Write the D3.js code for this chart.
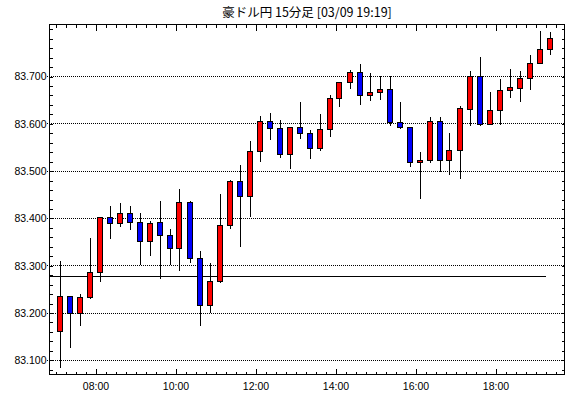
<!DOCTYPE html>
<html>
<head>
<meta charset="utf-8">
<script src="https://cdn.jsdelivr.net/npm/d3@7"></script>
<style>
  body { margin: 0; background: #fff; }
  svg { display: block; }
  .tick text { font-family: "Liberation Sans", Arial, sans-serif; font-size: 10.5px; fill: #000; }
</style>
</head>
<body>
<div id="chart"></div>
<script>
// 15-minute candles, 2011-03-09 (AUD/JPY)
const times = [
  "07:00","07:15","07:30","07:45","08:00","08:15","08:30","08:45","09:00","09:15",
  "09:30","09:45","10:00","10:15","10:30","10:45","11:00","11:15","11:30","11:45",
  "12:00","12:15","12:30","12:45","13:00","13:15","13:30","13:45","14:00","14:15",
  "14:30","14:45","15:00","15:15","15:30","15:45","16:00","16:15","16:30","16:45",
  "17:00","17:15","17:30","17:45","18:00","18:15","18:30","18:45","19:00","19:15"
];
const open = [
  83.160,83.234,83.198,83.232,83.285,83.401,83.389,83.410,83.391,83.351,
  83.391,83.364,83.336,83.433,83.315,83.216,83.266,83.384,83.478,83.446,
  83.541,83.605,83.590,83.535,83.592,83.579,83.547,83.588,83.653,83.687,
  83.708,83.660,83.666,83.672,83.603,83.592,83.518,83.522,83.605,83.522,
  83.543,83.631,83.701,83.598,83.629,83.670,83.675,83.696,83.728,83.757
];
const high = [
  83.311,83.236,83.241,83.358,83.402,83.426,83.433,83.426,83.412,83.394,
  83.437,83.377,83.462,83.436,83.332,83.306,83.451,83.481,83.512,83.564,
  83.617,83.622,83.609,83.594,83.646,83.586,83.620,83.660,83.689,83.714,
  83.726,83.707,83.702,83.702,83.646,83.594,83.540,83.615,83.615,83.580,
  83.637,83.711,83.742,83.668,83.694,83.715,83.711,83.746,83.797,83.795
];
const low = [
  83.083,83.126,83.172,83.230,83.265,83.356,83.382,83.375,83.302,83.320,
  83.271,83.302,83.289,83.306,83.172,83.201,83.264,83.377,83.339,83.402,
  83.519,83.566,83.528,83.504,83.567,83.526,83.543,83.572,83.636,83.673,
  83.640,83.648,83.651,83.596,83.590,83.509,83.442,83.518,83.499,83.492,
  83.483,83.596,83.596,83.598,83.598,83.654,83.646,83.672,83.727,83.746
];
const close = [
  83.234,83.198,83.232,83.285,83.401,83.389,83.410,83.391,83.351,83.389,
  83.363,83.336,83.433,83.315,83.216,83.266,83.384,83.478,83.446,83.541,
  83.605,83.590,83.535,83.592,83.579,83.547,83.588,83.653,83.687,83.708,
  83.660,83.666,83.672,83.603,83.592,83.518,83.522,83.605,83.522,83.543,
  83.632,83.701,83.598,83.629,83.671,83.677,83.696,83.728,83.757,83.780
];
const yLabels = [83.1, 83.2, 83.3, 83.4, 83.5, 83.6, 83.7];
const refLevel = 83.277;   // horizontal line
const refEnd = "19:15";
const title = "豪ドル円 15分足 [03/09 19:19]";

const W = 570, H = 398;
const pLeft = 49.5, pRight = 564.5, pTop = 24.5, pBottom = 374.5;

const parse = d3.timeParse("%Y-%m-%d %H:%M");
const day = "2011-03-09 ";
const data = times.map((t, i) => ({
  t: parse(day + t), o: open[i], h: high[i], l: low[i], c: close[i]
}));

const svg = d3.select("#chart").append("svg")
  .attr("width", W).attr("height", H);

const x = d3.scaleTime()
  .domain([parse(day + "06:51"), d3.timeSecond.offset(parse(day + "19:43"), 30)])
  .range([pLeft, pRight]);
const y = d3.scaleLinear()
  .domain([83.07, 83.81])
  .range([pBottom, pTop]);

const snap = v => Math.round(v - 0.5) + 0.5;

// title
svg.append("text")
  .attr("x", (pLeft + pRight) / 2).attr("y", 17)
  .attr("text-anchor", "middle")
  .style("font-family", "'Noto Sans CJK JP', sans-serif")
  .style("font-size", "12.5px")
  .text(title);

// dotted grid
svg.append("g").selectAll("line")
  .data(yLabels).join("line")
  .attr("x1", 47).attr("x2", pRight)
  .attr("y1", d => snap(y(d))).attr("y2", d => snap(y(d)))
  .attr("stroke", "#000").attr("stroke-dasharray", "1,1")
  .attr("shape-rendering", "crispEdges");

// axes ticks
const t0 = parse(day + "07:00"), t1 = parse(day + "19:30");
const qTicks = d3.timeMinute.every(15).range(t0, d3.timeMinute.offset(t1, 1));
const hTicks = qTicks.filter(d => d.getMinutes() == 0 && d.getHours() % 2 == 0);

function styleAxis(g) {
  g.select(".domain").remove();
  g.selectAll("line").attr("shape-rendering", "crispEdges");
}

svg.append("g").attr("transform", `translate(0,${pBottom})`)
  .call(d3.axisBottom(x).tickValues(qTicks).tickSize(-3).tickFormat(""))
  .call(styleAxis);
svg.append("g").attr("transform", `translate(0,${pBottom})`)
  .call(d3.axisBottom(x).tickValues(hTicks).tickSize(-6).tickPadding(8)
    .tickFormat(d3.timeFormat("%H:%M")))
  .call(styleAxis);
svg.append("g").attr("transform", `translate(0,${pTop})`)
  .call(d3.axisTop(x).tickValues(qTicks).tickSize(-3).tickFormat(""))
  .call(styleAxis);
svg.append("g").attr("transform", `translate(0,${pTop})`)
  .call(d3.axisTop(x).tickValues(hTicks).tickSize(-6).tickFormat(""))
  .call(styleAxis);

const yMinor = d3.range(83.08, 83.81, 0.02);
svg.append("g").attr("transform", `translate(${pLeft},0)`)
  .call(d3.axisLeft(y).tickValues(yMinor).tickSize(-3).tickFormat(""))
  .call(styleAxis);
svg.append("g").attr("transform", `translate(${pRight},0)`)
  .call(d3.axisRight(y).tickValues(yMinor).tickSize(-3).tickFormat(""))
  .call(styleAxis);
svg.append("g").attr("transform", `translate(${pLeft - 2},0)`)
  .call(d3.axisLeft(y).tickValues(yLabels).tickSize(0).tickPadding(1)
    .tickFormat(d3.format(".3f")))
  .call(styleAxis);

// reference line
svg.append("line")
  .attr("x1", pLeft).attr("x2", x(parse(day + refEnd)))
  .attr("y1", snap(y(refLevel))).attr("y2", snap(y(refLevel)))
  .attr("stroke", "#000").attr("shape-rendering", "crispEdges");

// candles
const cx = d => Math.round(x(d3.timeSecond.offset(d.t, 450)));
const candles = svg.append("g").selectAll("g")
  .data(data).join("g");

candles.append("line")
  .attr("x1", d => cx(d) - 0.5).attr("x2", d => cx(d) - 0.5)
  .attr("y1", d => Math.round(y(d.h))).attr("y2", d => Math.round(y(d.l)))
  .attr("stroke", "#000").attr("shape-rendering", "crispEdges");

candles.append("rect")
  .attr("x", d => cx(d) - 3.5)
  .attr("width", 5)
  .attr("y", d => snap(y(Math.max(d.o, d.c))))
  .attr("height", d => Math.max(1, snap(y(Math.min(d.o, d.c))) - snap(y(Math.max(d.o, d.c)))))
  .attr("fill", d => d.c >= d.o ? "#ff0000" : "#0000ff")
  .attr("stroke", "#000").attr("shape-rendering", "crispEdges");

// frame
svg.append("rect")
  .attr("x", pLeft).attr("y", pTop)
  .attr("width", pRight - pLeft).attr("height", pBottom - pTop)
  .attr("fill", "none").attr("stroke", "#000")
  .attr("shape-rendering", "crispEdges");
</script>
</body>
</html>
